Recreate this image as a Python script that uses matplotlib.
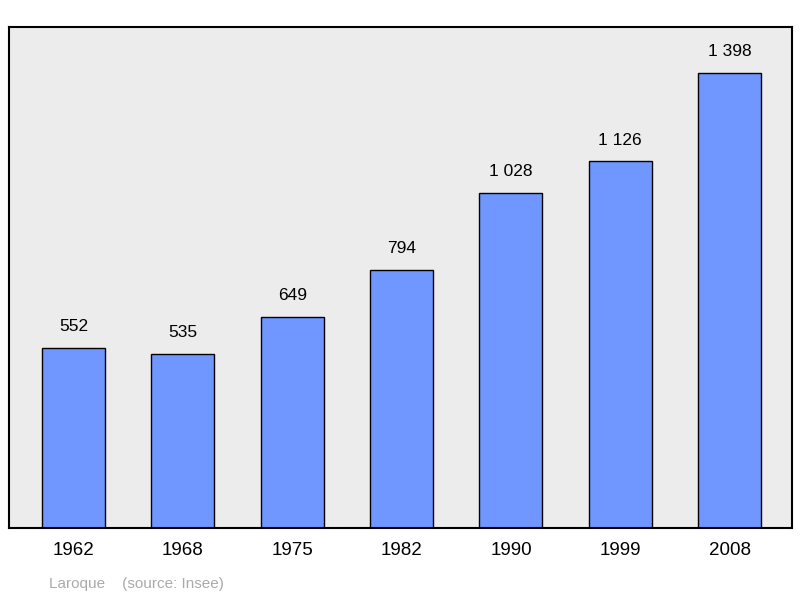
import matplotlib.pyplot as plt

years = ["1962", "1968", "1975", "1982", "1990", "1999", "2008"]
population = [552, 535, 649, 794, 1028, 1126, 1398]
value_labels = ["552", "535", "649", "794", "1 028", "1 126", "1 398"]

plt.rcParams["font.family"] = ["Liberation Sans", "DejaVu Sans"]

fig = plt.figure(figsize=(8, 5.98), dpi=100)
ax = fig.add_axes([9 / 800, 70 / 598, 783 / 800, 501 / 598])
ax.set_facecolor("#ececec")

x = list(range(len(years)))
ax.bar(x, population, width=0.576, color="#7096ff", edgecolor="black", linewidth=1)
for xi, v, lab in zip(x, population, value_labels):
    ax.annotate(lab, (xi, v), xytext=(0, 10), textcoords="offset points",
                ha="center", va="bottom", fontsize=12.5)

ax.set_xlim(-0.59, 6.57)
ax.set_ylim(0, 1539)
ax.set_xticks(x)
ax.set_xticklabels(years, fontsize=13.5)
ax.tick_params(axis="x", length=0, pad=10)
ax.set_yticks([])
for s in ax.spines.values():
    s.set_linewidth(1.5)

fig.text(49 / 800, 1 - 584 / 598, "Laroque    (source: Insee)", color="#aaaaaa",
         fontsize=11, va="center")

fig.savefig("out.png")
